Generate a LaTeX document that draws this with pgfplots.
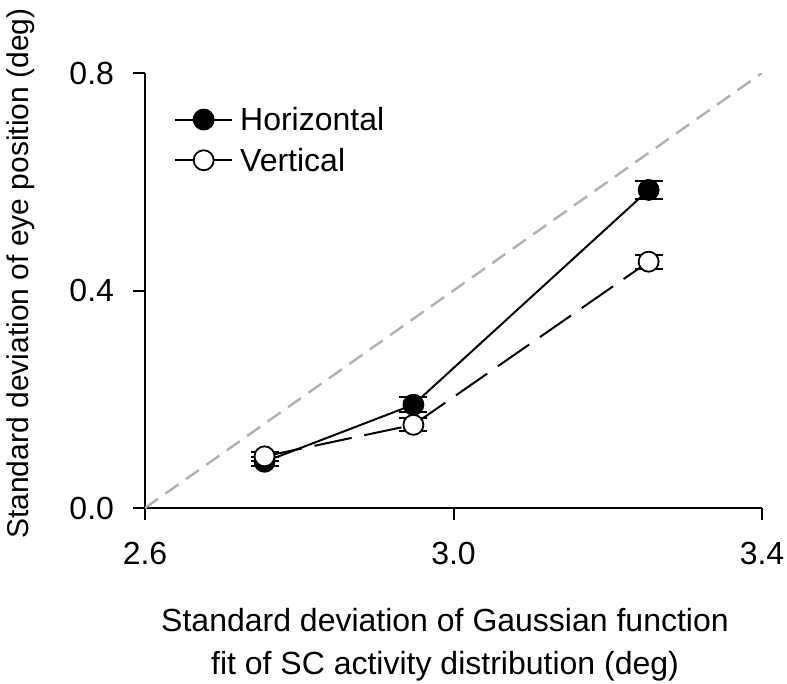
\documentclass[border=0pt]{standalone}
\usepackage{pgfplots}
\pgfplotsset{compat=1.18}
\usepackage{fontspec}
\setmainfont{Liberation Sans}
\begin{document}
\begin{tikzpicture}
\begin{axis}[
  name=ax,
  scale only axis,
  width=617pt, height=435pt,
  xmin=2.6, xmax=3.4, ymin=0, ymax=0.8,
  axis x line*=bottom, axis y line*=left,
  axis line style={line width=2pt},
  xtick={2.6,3.0,3.4}, ytick={0,0.4,0.8},
  tick align=outside, major tick length=11.5pt,
  tick style={line width=2pt, black},
  /pgf/number format/assume math mode=true,
  xticklabel style={/pgf/number format/.cd, fixed, fixed zerofill, precision=1, /tikz/.cd, yshift=-19pt},
  yticklabel style={/pgf/number format/.cd, fixed, fixed zerofill, precision=1, /tikz/.cd, xshift=-16pt},
  tick label style={font=\fontsize{32}{38}\selectfont},
  xlabel={Standard deviation of Gaussian function\\fit of SC activity distribution (deg)},
  xlabel style={font=\fontsize{32}{43}\selectfont, align=center, at={(axis description cs:0.4862,-0.223)}, anchor=north},
  ylabel={Standard deviation of eye position (deg)},
  ylabel style={font=\fontsize{30}{35}\selectfont, at={(axis description cs:-0.2301,0.539)}, anchor=north, rotate=0},
  legend style={at={(rel axis cs:0.047,0.931)}, anchor=north west, draw=none, fill=none, inner sep=0pt,
    font=\fontsize{32}{38}\selectfont, row sep=8pt, nodes={inner sep=4pt}},
  legend cell align=left,
  legend image code/.code={\draw[#1, solid, mark repeat=2, mark phase=2] plot coordinates {(0pt,0pt) (28.5pt,0pt) (57pt,0pt)};},
]
\addplot[gray!60, line width=2.4pt, dash pattern=on 16pt off 9pt, forget plot] coordinates {(2.6,0) (3.4,0.8)};
\addplot[black, line width=2pt, mark=*, mark size=10pt, mark options={solid, fill=black, line width=1.8pt},
  error bars/.cd, y dir=both, y explicit,
  error bar style={line width=2pt, solid},
  error mark options={rotate=90, mark size=14pt, line width=2pt, solid}]
  coordinates {(2.755,0.085) +- (0,0.008) (2.948,0.190) +- (0,0.014) (3.253,0.585) +- (0,0.017)};
\addlegendentry{\hspace{3pt}Horizontal}
\addplot[black, line width=2pt, dash pattern=on 38pt off 13pt, mark=*, mark size=10pt, mark options={solid, fill=white, line width=1.8pt},
  error bars/.cd, y dir=both, y explicit,
  error bar style={line width=2pt, solid},
  error mark options={rotate=90, mark size=14pt, line width=2pt, solid}]
  coordinates {(2.755,0.095) +- (0,0.008) (2.948,0.153) +- (0,0.012) (3.253,0.453) +- (0,0.013)};
\addlegendentry{\hspace{3pt}Vertical}
\end{axis}
\pgfresetboundingbox
\path ([shift={(-145pt,-175pt)}]ax.south west) rectangle ([shift={(25pt,73pt)}]ax.north east);
\end{tikzpicture}
\end{document}
